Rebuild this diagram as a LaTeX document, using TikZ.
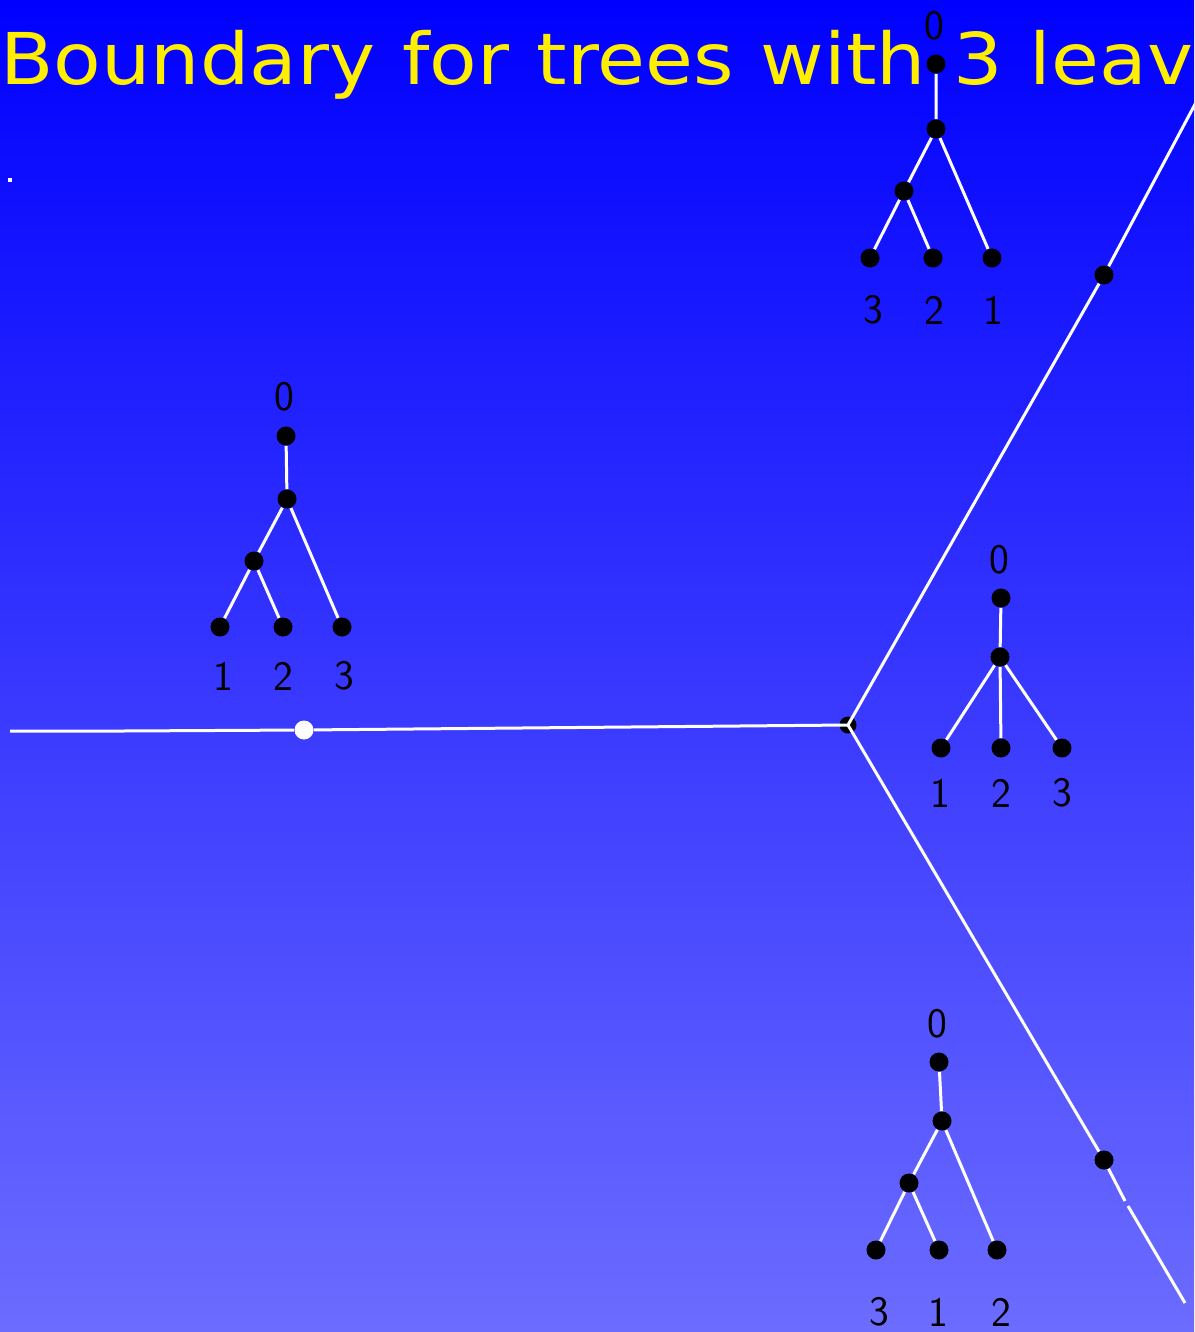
\documentclass[tikz,border=0pt]{standalone}
\usepackage{fontspec}
\newfontfamily\ttlfont{DejaVu Sans}[FakeStretch=1.09]
\definecolor{bgtop}{RGB}{0,0,255}
\definecolor{bgbot}{RGB}{108,108,255}
\definecolor{ttlyellow}{RGB}{255,238,0}
\begin{document}
\begin{tikzpicture}[x=0.5pt,y=-0.5pt,
    dot/.style={circle,fill=black,inner sep=0pt,minimum size=9.5pt},
    branch/.style={white,line width=1.5pt},
    lbl/.style={font=\sffamily\fontsize{21}{21}\selectfont,text=black,inner sep=0pt}]
    \useasboundingbox (0,0) rectangle (1194,1332);
    \shade[top color=bgtop,bottom color=bgbot] (0,0) rectangle (1194,1332);
    \clip (0,0) rectangle (1194,1332);
    \node[anchor=base west,inner sep=0pt,text=ttlyellow,font=\ttlfont\fontsize{35.7}{40}\selectfont] (title) at (0,85) {\spaceskip=13.6pt\relax Boundary for trees with 3 leaves};
    \node[fill=white,inner sep=0pt,minimum size=2pt] (speck) at (10,180) {};
    % the three rays
    \coordinate (west) at (10,731);
    \coordinate (kink) at (123,731);
    \node[circle,fill=white,inner sep=0pt,minimum size=9.5pt] (wdot) at (304,730) {};
    \node[dot,minimum size=8.5pt] (hub) at (848,725) {};
    \node[dot] (nedot) at (1104,275) {};
    \node[dot] (sedot) at (1104,1160) {};
    \coordinate (ne) at (1201,93);
    \coordinate (sea) at (1125,1201);
    \coordinate (seb) at (1128,1206);
    \coordinate (seend) at (1185,1303);
    \draw[branch] (west) -- (kink) -- (wdot) -- (hub.center);
    \draw[branch] (hub.center) -- (nedot) -- (ne);
    \draw[branch] (hub.center) -- (sedot) -- (sea);
    \draw[branch] (seb) -- (seend);
    % tree 3 2 1
    \node[lbl] (a0) at (934,26) {0};
    \node[dot] (ar) at (936,64) {};
    \node[dot] (ai) at (936,129) {};
    \node[dot] (aj) at (904,191) {};
    \node[dot] (a3) at (870,258) {};
    \node[dot] (a2) at (933,258) {};
    \node[dot] (a1) at (992,258) {};
    \node[lbl] (a3l) at (873,310) {3};
    \node[lbl] (a2l) at (934,310) {2};
    \node[lbl] (a1l) at (993,310) {1};
    \draw[branch] (ar) -- (ai) -- (aj) -- (a3) (aj) -- (a2) (ai) -- (a1);
    % tree 1 2 3
    \node[lbl] (b0) at (284,397) {0};
    \node[dot] (br) at (286,436) {};
    \node[dot] (bi) at (287,499) {};
    \node[dot] (bj) at (254,561) {};
    \node[dot] (b1) at (220,627) {};
    \node[dot] (b2) at (283,627) {};
    \node[dot] (b3) at (342,627) {};
    \node[lbl] (b1l) at (223,676) {1};
    \node[lbl] (b2l) at (283,676) {2};
    \node[lbl] (b3l) at (344,676) {3};
    \draw[branch] (br) -- (bi) -- (bj) -- (b1) (bj) -- (b2) (bi) -- (b3);
    % corolla
    \node[lbl] (c0) at (999,560) {0};
    \node[dot] (cr) at (1001,598) {};
    \node[dot] (ci) at (1000,657) {};
    \node[dot] (c1) at (941,748) {};
    \node[dot] (c2) at (1001,748) {};
    \node[dot] (c3) at (1062,748) {};
    \node[lbl] (c1l) at (940,793) {1};
    \node[lbl] (c2l) at (1001,793) {2};
    \node[lbl] (c3l) at (1062,793) {3};
    \draw[branch] (cr) -- (ci) -- (c1) (ci) -- (c2) (ci) -- (c3);
    % tree 3 1 2
    \node[lbl] (d0) at (937,1024) {0};
    \node[dot] (dr) at (939,1062) {};
    \node[dot] (di) at (942,1121) {};
    \node[dot] (dj) at (909,1183) {};
    \node[dot] (d3) at (876,1250) {};
    \node[dot] (d1) at (939,1250) {};
    \node[dot] (d2) at (997,1250) {};
    \node[lbl] (d3l) at (879,1312) {3};
    \node[lbl] (d1l) at (938,1312) {1};
    \node[lbl] (d2l) at (1001,1312) {2};
    \draw[branch] (dr) -- (di) -- (dj) -- (d3) (dj) -- (d1) (di) -- (d2);
\end{tikzpicture}
\end{document}
